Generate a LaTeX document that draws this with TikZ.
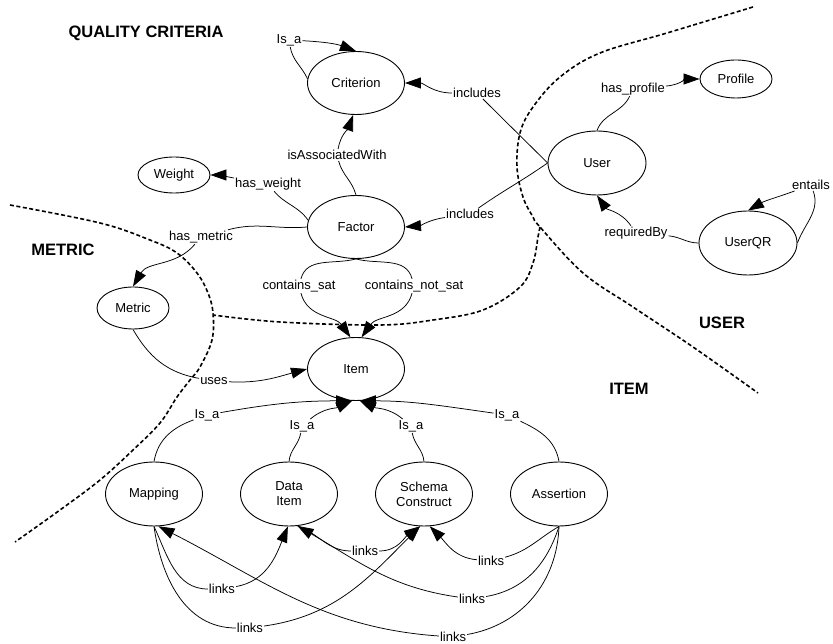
\documentclass[tikz,border=0pt]{standalone}
\usepackage{fontspec}
\setmainfont{Liberation Sans}
\usetikzlibrary{arrows.meta,shapes.geometric}
\tikzset{
  big/.style={ellipse, draw, line width=0.9pt, minimum width=97pt, minimum height=63pt, inner sep=0pt, font=\fontsize{13}{15}\selectfont, align=center},
  small/.style={big, minimum width=72pt, minimum height=38pt},
  lbl/.style={inner sep=1pt, font=\fontsize{13}{15}\selectfont},
  region/.style={font=\bfseries\fontsize{16.5}{19}\selectfont},
  edge/.style={line width=0.75pt},
  arr/.style={edge, -{Triangle[length=16pt,width=11pt]}},
  bound/.style={line width=1.6pt, dash pattern=on 4pt off 2.5pt},
}
\begin{document}
\begin{tikzpicture}[x=1pt,y=1pt]
\useasboundingbox (0,0) rectangle (833,643);

% boundaries
\draw[bound] plot[smooth, tension=0.6] coordinates {(753,636) (667,610) (600,590) (560,566) (533,536) (520,510) (517,476) (523,446) (533,426) (540,416) (583,370) (633,336) (693,296) (758,250)};
\draw[bound] plot[smooth, tension=0.6] coordinates {(540,416) (538,406) (533,380) (520,356) (483,333) (433,323) (380,318) (280,321) (213,328)};
\draw[bound] plot[smooth, tension=0.6] coordinates {(10,438) (100,420) (150,403) (177,390) (197,370) (208,350) (213,330) (212,303) (200,276) (190,263) (177,246) (160,220) (133,193) (100,163) (60,133) (15,101)};

% nodes
\node[big] (crit) at (356,560) {Criterion};
\node[small, minimum height=36pt] (weight) at (174,468) {Weight};
\node[small, minimum height=38pt] (profile) at (736,564) {Profile};
\node[big, minimum width=98pt, minimum height=64pt] (user) at (597,480) {User};
\node[big] (factor) at (356,416) {Factor};
\node[small, minimum height=42pt] (metric) at (133,335) {Metric};
\node[big] (item) at (356,274) {Item};
\node[big, minimum width=98pt, minimum height=64pt] (userqr) at (748,400) {UserQR};
\node[big, minimum height=64pt] (mapping) at (154,149) {Mapping};
\node[big, minimum height=64pt] (dataitem) at (289,149) {Data\\Item};
\node[big, minimum height=64pt] (schema) at (424,149) {Schema\\Construct};
\node[big, minimum height=64pt] (assertion) at (559,149) {Assertion};

% region titles
\node[region] (rq) at (146,610) {QUALITY CRITERIA};
\node[region] (rm) at (63,393) {METRIC};
\node[region] (ru) at (722,320) {USER};
\node[region] (ri) at (629,254) {ITEM};

% edge labels
\node[lbl] (l1) at (289,603) {Is\_a};
\node[lbl] (l2) at (337,488) {isAssociatedWith};
\node[lbl] (l3) at (268,459) {has\_weight};
\node[lbl] (l4) at (477,550) {includes};
\node[lbl] (l5) at (470,429) {includes};
\node[lbl] (l6) at (633,554) {has\_profile};
\node[lbl] (l7) at (636,410) {requiredBy};
\node[lbl] (l8) at (811,458) {entails};
\node[lbl] (l9) at (201,406) {has\_metric};
\node[lbl] (l10) at (299,357) {contains\_sat};
\node[lbl] (l11) at (414,357) {contains\_not\_sat};
\node[lbl] (l12) at (214,262) {uses};
\node[lbl] (l13) at (207,228) {Is\_a};
\node[lbl] (l14) at (302,217) {Is\_a};
\node[lbl] (l15) at (411,217) {Is\_a};
\node[lbl] (l16) at (507,228) {Is\_a};
\node[lbl] (l17) at (222,54) {links};
\node[lbl] (l18) at (250,15) {links};
\node[lbl] (l19) at (365,92) {links};
\node[lbl] (l20) at (491,82) {links};
\node[lbl] (l21) at (472,44) {links};
\node[lbl] (l22) at (453,6) {links};

% edges
\draw[edge] (crit.175) to[out=115,in=-80] (l1);
\draw[arr] (l1) to[out=-3,in=160] (crit.north);
\draw[edge] (factor.north) to[out=105,in=-75] (l2);
\draw[arr] (l2) to[out=80,in=-110] (crit.-95);
\draw[edge] (factor.172) to[out=125,in=-50] (l3);
\draw[arr] (l3) to[out=170,in=0] (weight.east);
\draw[edge] (user.west) to[out=135,in=-45] (l4);
\draw[arr] (l4) to[out=180,in=0] (crit.east);
\draw[edge] (user.west) to[out=-145,in=35] (l5);
\draw[arr] (l5) to[out=188,in=5] (factor.east);
\draw[edge] (user.north) to[out=70,in=-115] (l6);
\draw[arr] (l6) to[out=5,in=180] (profile.west);
\draw[edge] (userqr.west) to[out=180,in=-5] (l7);
\draw[arr] (l7) to[out=125,in=-55] (user.south);
\draw[edge] (userqr.east) to[out=70,in=-70] (l8);
\draw[arr] (l8) to[out=200,in=30] (userqr.north);
\draw[edge] (factor.west) to[out=185,in=15] (l9);
\draw[arr] (l9) to[out=-130,in=60] (metric.north);
\draw[edge] (factor.south) to[out=195,in=75] (l10);
\draw[arr] (l10) to[out=-75,in=125] (item.100);
\draw[edge] (factor.south) to[out=-15,in=105] (l11);
\draw[arr] (l11) to[out=-105,in=55] (item.80);
\draw[edge] (metric.south) to[out=-60,in=170] (l12);
\draw[arr] (l12) to[out=-3,in=195] (item.west);
\draw[edge] (mapping.north) to[out=80,in=200] (l13);
\draw[arr] (l13) to[out=10,in=180] (item.-97);
\draw[edge] (dataitem.north) to[out=85,in=-100] (l14);
\draw[arr] (l14) to[out=40,in=205] (item.-97);
\draw[edge] (schema.north) to[out=95,in=-80] (l15);
\draw[arr] (l15) to[out=140,in=-25] (item.-83);
\draw[edge] (assertion.north) to[out=100,in=-25] (l16);
\draw[arr] (l16) to[out=172,in=0] (item.-83);
\draw[edge] (mapping.south) to[out=-65,in=180] (l17);
\draw[arr] (l17) to[out=10,in=-112] (dataitem.-92);
\draw[edge] (mapping.south) to[out=-82,in=180] (l18);
\draw[arr] (l18) to[out=8,in=-135] (schema.-97);
\draw[edge] (dataitem.-75) to[out=-20,in=180] (l19);
\draw[arr] (l19) to[out=0,in=-145] (schema.-97);
\draw[edge] (assertion.south) to[out=-150,in=15] (l20);
\draw[arr] (l20) to[out=175,in=-45] (schema.-80);
\draw[edge] (assertion.south) to[out=-108,in=10] (l21);
\draw[arr] (l21) to[out=172,in=-30] (dataitem.-75);
\draw[edge] (assertion.south) to[out=-92,in=10] (l22);
\draw[arr] (l22) to[out=176,in=-27] (mapping.-82);
\end{tikzpicture}
\end{document}
